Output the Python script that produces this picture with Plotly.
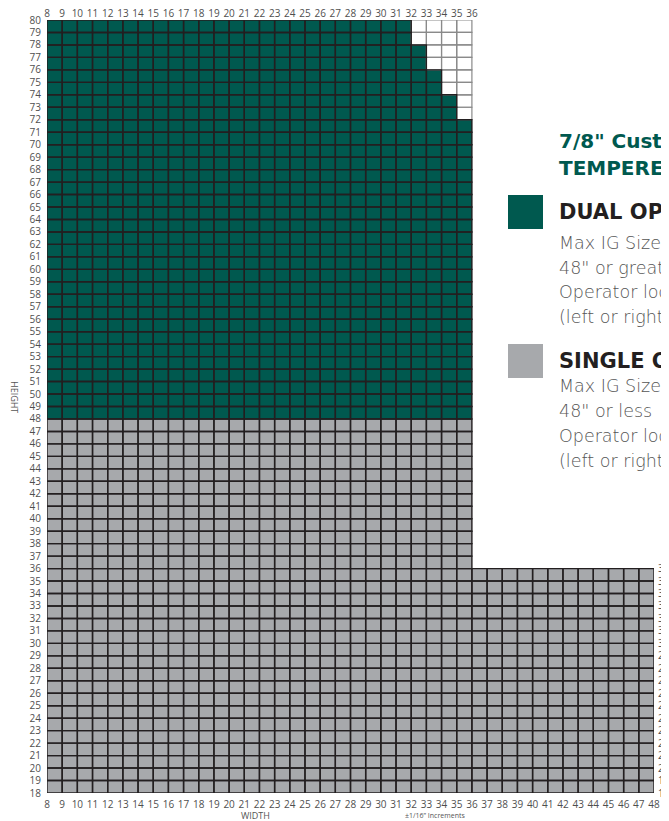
import plotly.graph_objects as go

# ---------------- data ----------------
width_ticks = list(range(8, 49))            # bottom axis labels
width_ticks_top = list(range(8, 37))        # top axis labels
height_ticks = list(range(18, 81))          # left axis labels
height_ticks_right = list(range(18, 37))    # right axis labels

# single operator rows (row bottom height) and max width reached in that row
single_rows = [18, 19, 20, 21, 22, 23, 24, 25, 26, 27, 28, 29, 30, 31, 32, 33, 34, 35,
               36, 37, 38, 39, 40, 41, 42, 43, 44, 45, 46, 47]
single_max_width = [48, 48, 48, 48, 48, 48, 48, 48, 48, 48, 48, 48, 48, 48, 48, 48, 48, 48,
                    36, 36, 36, 36, 36, 36, 36, 36, 36, 36, 36, 36]

# dual operator rows and max width reached in that row
dual_rows = [48, 49, 50, 51, 52, 53, 54, 55, 56, 57, 58, 59, 60, 61, 62, 63, 64, 65, 66, 67,
             68, 69, 70, 71, 72, 73, 74, 75, 76, 77, 78, 79]
dual_max_width = [36, 36, 36, 36, 36, 36, 36, 36, 36, 36, 36, 36, 36, 36, 36, 36, 36, 36, 36, 36,
                  36, 36, 36, 36, 35, 35, 34, 34, 33, 33, 32, 32]
dual_frame_width = 36  # grid drawn (white) up to this width in dual rows

GREEN = "#00594f"
GRAY = "#a7a9ac"
LINE = "#231f20"
TICK = "#4f4f4f"

# ---------------- build cells ----------------
x0, x1 = width_ticks[0], width_ticks[-1]
y0, y1 = height_ticks[0], height_ticks[-1]
xc = [c + 0.5 for c in range(x0, x1)]
yc = [r + 0.5 for r in range(y0, y1)]
single = dict(zip(single_rows, single_max_width))
dual = dict(zip(dual_rows, dual_max_width))

z = []
dark_x, dark_y, light_x, light_y = [], [], [], []


def add_cell(xs, ys, c, r):
    xs.extend([c, c + 1, c + 1, c, c, None])
    ys.extend([r, r, r + 1, r + 1, r, None])


for r in range(y0, y1):
    row = []
    for c in range(x0, x1):
        v = None
        if r in single and c < single[r]:
            v = 1
        elif r in dual and c < dual[r]:
            v = 2
        elif r in dual and c < dual_frame_width:
            v = 0
        row.append(v)
        if v == 0:
            add_cell(light_x, light_y, c, r)
    z.append(row)

for r in range(y0, y1):
    for c in range(x0, x1):
        v = z[r - y0][c - x0]
        if v in (1, 2):
            add_cell(dark_x, dark_y, c, r)

fig = go.Figure()
fig.add_trace(go.Heatmap(
    x=xc, y=yc, z=z, zmin=0, zmax=2,
    colorscale=[[0, "#ffffff"], [0.33, "#ffffff"], [0.34, GRAY], [0.66, GRAY],
                [0.67, GREEN], [1, GREEN]],
    showscale=False, hoverinfo="skip"))
fig.add_trace(go.Scatter(x=light_x, y=light_y, mode="lines",
                         line=dict(color="#8a8a8a", width=1.2), hoverinfo="skip"))
fig.add_trace(go.Scatter(x=dark_x, y=dark_y, mode="lines",
                         line=dict(color=LINE, width=1.4), hoverinfo="skip"))
# invisible trace for the secondary axes
fig.add_trace(go.Scatter(x=[x0], y=[y0], xaxis="x2", yaxis="y2", mode="markers",
                         marker=dict(opacity=0), hoverinfo="skip"))

# page body has an 8px margin: figure is offset by 8px in the window
OFF = 8
W, H = 669 - OFF, 821 - OFF
L, T = 47 - OFF, 20 - OFF
R = W - (654 - OFF)
B = H - (793 - OFF)
tickfont = dict(family="Open Sans, DejaVu Sans, sans-serif", size=10, color=TICK)
common = dict(showgrid=False, zeroline=False, showline=False, ticks="outside",
              tickcolor="rgba(0,0,0,0)", tickfont=tickfont, fixedrange=True,
              automargin=False, tickmode="array", ticklabeloverflow="allow")

fig.update_layout(
    width=W, height=H, showlegend=False,
    margin=dict(l=L, r=R, t=T, b=B, autoexpand=False),
    paper_bgcolor="white", plot_bgcolor="white",
    xaxis=dict(range=[x0, x1], tickvals=width_ticks,
               ticktext=[str(v) for v in width_ticks], ticklen=2, **common),
    yaxis=dict(range=[y0, y1], tickvals=height_ticks,
               ticktext=[str(v) for v in height_ticks], ticklen=3, **common),
    xaxis2=dict(range=[x0, x1], overlaying="x", side="top",
                tickvals=width_ticks_top, ticktext=[str(v) for v in width_ticks_top],
                ticklen=0, ticklabelstandoff=-2, **common),
    yaxis2=dict(range=[y0, y1], overlaying="y", side="right",
                tickvals=height_ticks_right, ticktext=[str(v) for v in height_ticks_right],
                ticklen=1, **common),
)

pw, ph = W - L - R, H - T - B


def px(xp):  # page pixel -> paper
    return (xp - OFF - L) / pw


def py(yp):
    return (H - B - (yp - OFF)) / ph


font_side = "DejaVu Sans, sans-serif"
font_axis = "Open Sans, DejaVu Sans, sans-serif"


def text(xp, yp, s, size, color, weight="normal", angle=0, xanchor="left", family=font_side):
    fig.add_annotation(xref="paper", yref="paper", x=px(xp), y=py(yp), text=s,
                       showarrow=False, xanchor=xanchor, yanchor="middle", textangle=angle,
                       font=dict(family=family, size=size, color=color, weight=weight))


# axis titles
text(14, 397, "HEIGHT", 9, "#555555", angle=90, xanchor="center", family=font_axis)
text(255, 815, "WIDTH", 9, "#555555", xanchor="center", family=font_axis)
text(435, 815, "\u00b11/16\u201d Increments", 7, "#555555", xanchor="center", family=font_axis)

# side panel
text(557, 141, "7/8\" Custom Casement", 20, GREEN, weight="bold")
text(557, 168, "TEMPERED GLASS", 20, GREEN, weight="bold")

fig.add_shape(type="rect", xref="paper", yref="paper", x0=px(508), x1=px(543),
              y0=py(229), y1=py(195), fillcolor=GREEN, line=dict(width=0))
fig.add_shape(type="rect", xref="paper", yref="paper", x0=px(508), x1=px(543),
              y0=py(378), y1=py(344), fillcolor=GRAY, line=dict(width=0))

BODY = "#555555"
text(557, 212, "DUAL OPERATOR", 21, LINE, weight="bold")
text(557, 243, "Max IG Size Width", 17.5, BODY, weight=200)
text(557, 268, "48\" or greater", 17.5, BODY, weight=200)
text(557, 292, "Operator location", 17.5, BODY, weight=200)
text(557, 317, "(left or right)", 17.5, BODY, weight=200)

text(557, 361, "SINGLE OPERATOR", 21, LINE, weight="bold")
text(557, 386, "Max IG Size Width", 17.5, BODY, weight=200)
text(557, 411, "48\" or less", 17.5, BODY, weight=200)
text(557, 436, "Operator location", 17.5, BODY, weight=200)
text(557, 461, "(left or right)", 17.5, BODY, weight=200)

fig.write_html("out.html")
